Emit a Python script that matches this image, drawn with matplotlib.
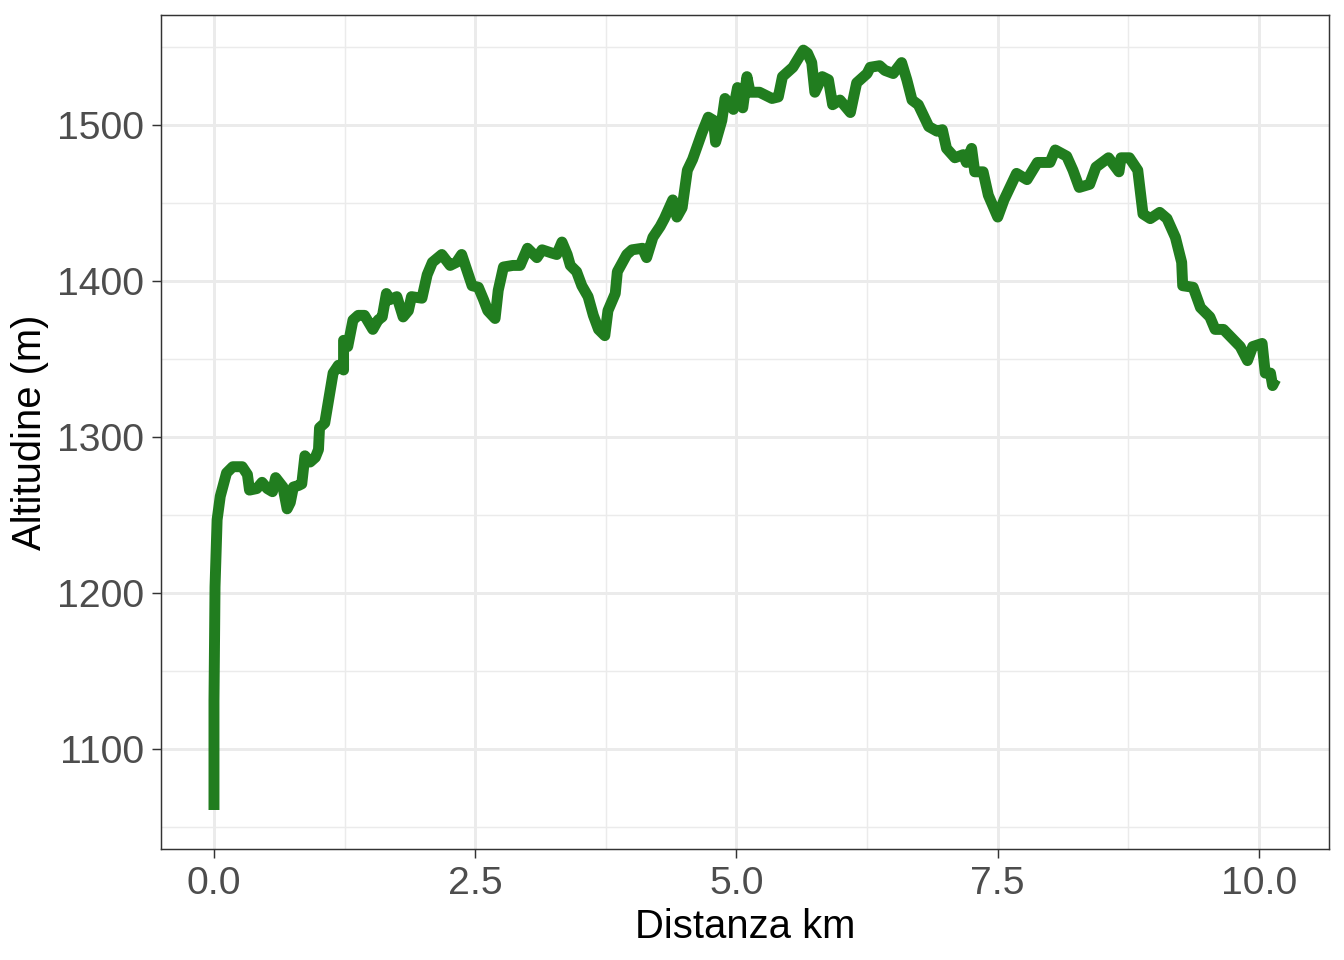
"""Elevation profile: altitude vs distance, ggplot theme_bw look."""
import matplotlib
matplotlib.use("Agg")
import matplotlib.pyplot as plt
from matplotlib.ticker import MultipleLocator

# distance along the track (km)
distanza_km = [
    0.00, 0.00, 0.01, 0.03, 0.06, 0.12, 0.18, 0.27, 0.32, 0.34,
    0.41, 0.46, 0.51, 0.56, 0.59, 0.66, 0.70, 0.73, 0.76, 0.81,
    0.84, 0.87, 0.92, 0.97, 1.00, 1.01, 1.06, 1.08, 1.14, 1.19,
    1.24, 1.24, 1.28, 1.33, 1.38, 1.44, 1.52, 1.57, 1.61, 1.65,
    1.68, 1.75, 1.81, 1.86, 1.89, 1.99, 2.04, 2.09, 2.18, 2.26,
    2.32, 2.37, 2.42, 2.47, 2.53, 2.58, 2.62, 2.69, 2.72, 2.77,
    2.86, 2.93, 3.00, 3.09, 3.14, 3.23, 3.28, 3.33, 3.38, 3.41,
    3.47, 3.52, 3.58, 3.63, 3.68, 3.74, 3.77, 3.84, 3.86, 3.95,
    4.00, 4.10, 4.14, 4.20, 4.27, 4.31, 4.39, 4.43, 4.48, 4.53,
    4.58, 4.67, 4.73, 4.78, 4.80, 4.86, 4.89, 4.97, 5.01, 5.06,
    5.10, 5.13, 5.22, 5.34, 5.40, 5.44, 5.54, 5.64, 5.68, 5.72,
    5.75, 5.82, 5.88, 5.92, 5.99, 6.09, 6.15, 6.25, 6.28, 6.37,
    6.42, 6.50, 6.58, 6.63, 6.68, 6.74, 6.84, 6.92, 6.97, 7.01,
    7.09, 7.17, 7.20, 7.25, 7.28, 7.36, 7.41, 7.50, 7.56, 7.68,
    7.78, 7.88, 8.00, 8.05, 8.16, 8.22, 8.28, 8.38, 8.44, 8.56,
    8.66, 8.68, 8.76, 8.84, 8.89, 8.96, 9.05, 9.12, 9.20, 9.26,
    9.27, 9.37, 9.44, 9.53, 9.58, 9.66, 9.82, 9.89, 9.94, 10.03,
    10.06, 10.11, 10.13, 10.16,
]

# altitude (m)
altitudine_m = [
    1061, 1131, 1204, 1247, 1262, 1277, 1281, 1281, 1276, 1266,
    1267, 1271, 1267, 1265, 1274, 1268, 1254, 1258, 1268, 1269,
    1270, 1288, 1284, 1287, 1292, 1306, 1309, 1317, 1341, 1346,
    1343, 1362, 1358, 1375, 1378, 1378, 1369, 1375, 1377, 1392,
    1388, 1390, 1377, 1381, 1390, 1389, 1404, 1412, 1417, 1410,
    1412, 1417, 1407, 1397, 1396, 1388, 1381, 1376, 1394, 1409,
    1410, 1410, 1421, 1415, 1420, 1418, 1417, 1425, 1417, 1410,
    1406, 1397, 1390, 1378, 1369, 1365, 1381, 1392, 1406, 1417,
    1420, 1421, 1415, 1428, 1435, 1440, 1452, 1441, 1447, 1471,
    1478, 1495, 1505, 1503, 1489, 1503, 1517, 1510, 1524, 1511,
    1531, 1521, 1521, 1517, 1518, 1531, 1537, 1548, 1546, 1540,
    1521, 1531, 1529, 1513, 1516, 1508, 1527, 1533, 1537, 1538,
    1535, 1533, 1540, 1529, 1516, 1513, 1499, 1496, 1497, 1485,
    1479, 1481, 1476, 1485, 1470, 1470, 1455, 1441, 1452, 1469,
    1465, 1476, 1476, 1484, 1480, 1471, 1460, 1462, 1473, 1479,
    1470, 1479, 1479, 1471, 1443, 1440, 1444, 1440, 1428, 1412,
    1397, 1396, 1383, 1377, 1369, 1369, 1358, 1349, 1358, 1360,
    1341, 1341, 1333, 1337,
]

x_ticks = [0.0, 2.5, 5.0, 7.5, 10.0]
y_ticks = [1100, 1200, 1300, 1400, 1500]

plt.rcParams["font.family"] = ["Liberation Sans", "DejaVu Sans"]

fig = plt.figure(figsize=(7, 5), dpi=192)
ax = fig.add_axes([161 / 1344, 1 - 849 / 960, (1329 - 161) / 1344, (849 - 15) / 960])

ax.plot(distanza_km, altitudine_m, color="#217d1f", linewidth=4.1,
        solid_capstyle="butt", solid_joinstyle="round", zorder=3)
ax.set_xlim(-0.507, 10.67)
ax.set_ylim(1036, 1570.5)

ax.set_xticks(x_ticks)
ax.set_xticklabels([f"{v:.1f}" for v in x_ticks])
ax.set_yticks(y_ticks)
ax.xaxis.set_minor_locator(MultipleLocator(1.25))
ax.yaxis.set_minor_locator(MultipleLocator(50))

ax.set_facecolor("white")
ax.grid(which="major", color="#ebebeb", linewidth=1.1, zorder=0)
ax.grid(which="minor", color="#ebebeb", linewidth=0.55, zorder=0)
ax.set_axisbelow(True)
for side in ax.spines.values():
    side.set_color("#333333")
    side.set_linewidth(0.55)

ax.tick_params(which="major", length=3.5, width=0.55, color="#333333",
               labelsize=14.7, labelcolor="#4d4d4d", pad=3)
ax.tick_params(which="minor", length=0)

ax.set_xlabel("Distanza km", fontsize=15, color="black", labelpad=2)
ax.set_ylabel("Altitudine (m)", fontsize=15, color="black", labelpad=3)

fig.savefig("out.png", dpi=192, facecolor="white")
